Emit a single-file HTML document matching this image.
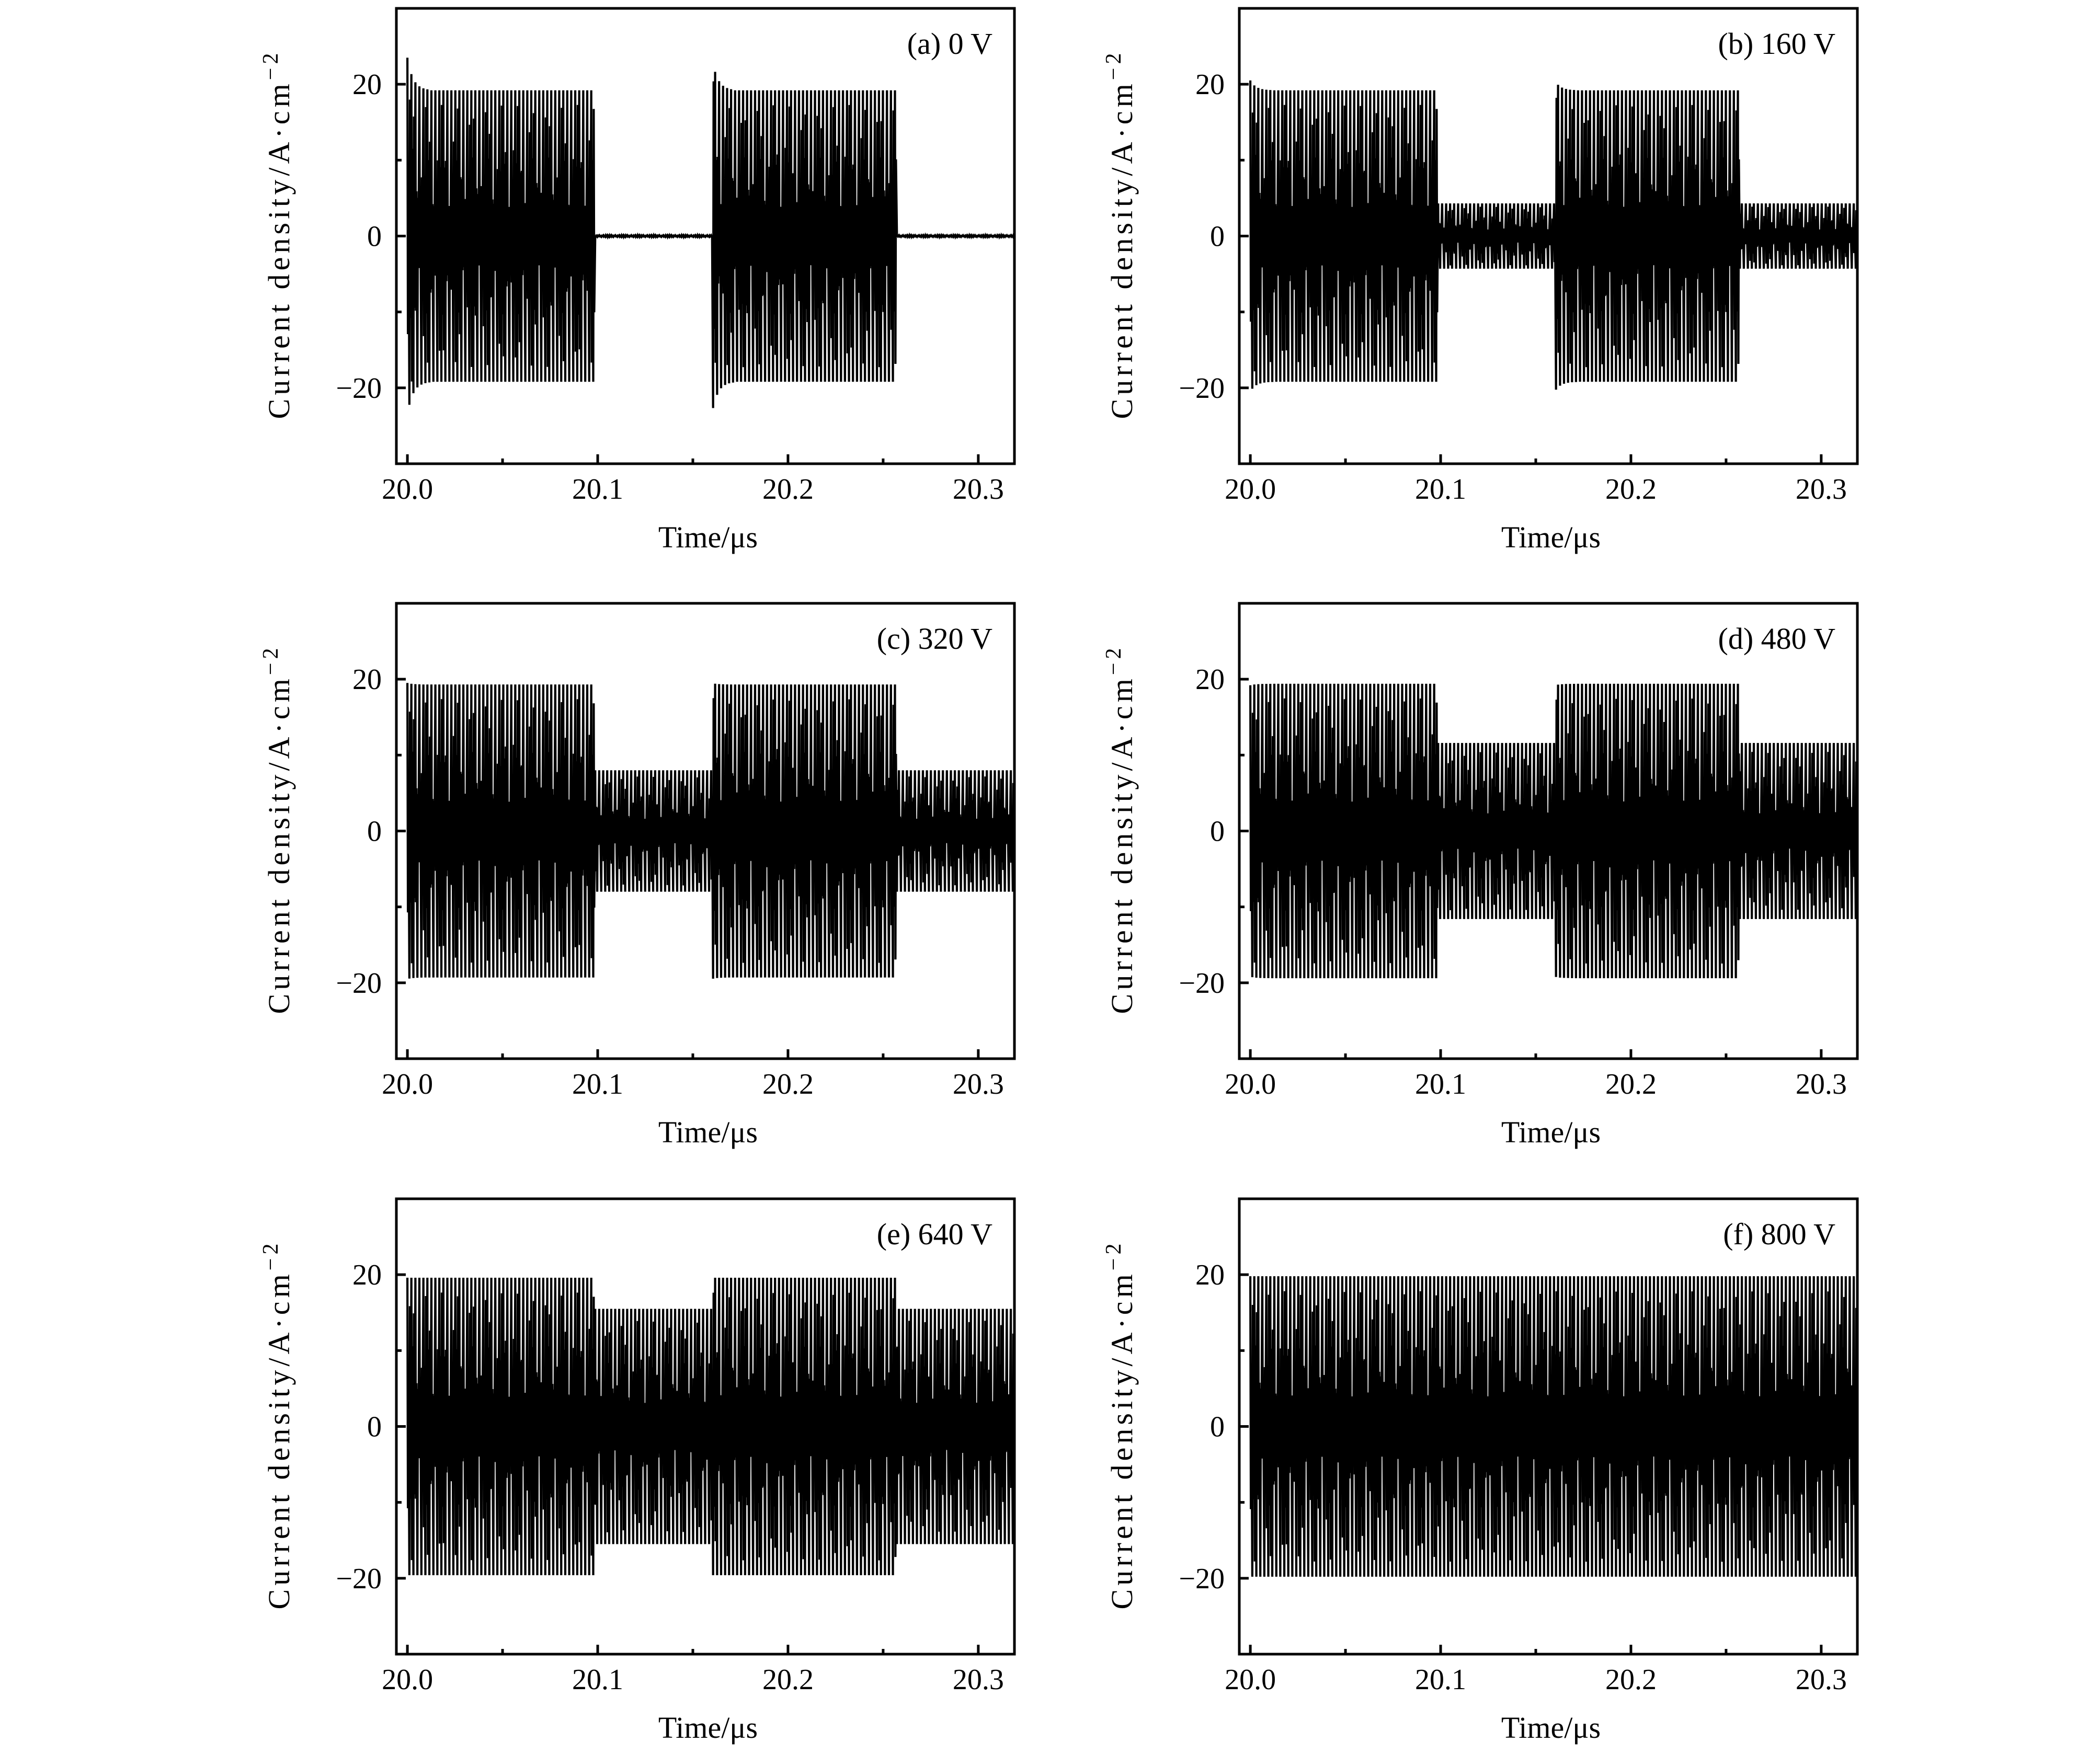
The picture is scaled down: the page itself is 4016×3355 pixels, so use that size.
<!DOCTYPE html>
<html><head><meta charset="utf-8"><style>
html,body{margin:0;padding:0;background:#fff}
svg{display:block}
text{font-family:"Liberation Serif",serif;fill:#000}
</style></head><body>
<svg id="fig" width="4016" height="3355" viewBox="0 0 4016 3355" xmlns="http://www.w3.org/2000/svg"></svg>
<script>
// ---- data ----
const panelLabels = ["(a) 0 V","(b) 160 V","(c) 320 V","(d) 480 V","(e) 640 V","(f) 800 V"];
const onAmp = [19.2, 19.2, 19.3, 19.4, 19.6, 19.8];
const offAmp = [0.1, 4.3, 8.0, 11.6, 15.5, 19.8];
const startPeak = [23.5, 20.5, 19.5, 19.2, 19.6, 19.8];
const segStart = [20.0, 20.098, 20.16, 20.257];
const segOn = [1, 0, 1, 0];
const xTicks = [20.0, 20.1, 20.2, 20.3];
const xTickLabels = ["20.0","20.1","20.2","20.3"];
const xMinor = [20.05, 20.15, 20.25];
const yTicks = [-20, 0, 20];
const yTickLabels = ["\u221220","0","20"];
const yMinor = [-10, 10];
const period = 0.0021;

const NS = "http://www.w3.org/2000/svg";
const svg = document.getElementById('fig');
function mk(tag, attrs, parent){
  const e = document.createElementNS(NS, tag);
  for (const k in attrs) e.setAttribute(k, attrs[k]);
  (parent||svg).appendChild(e); return e;
}
const colsX = [758, 2370];
const rowsY = [16, 1154, 2293];
const W = 1182, H = 871;
const xMin = 19.9942, xMax = 20.319, yMin = -30, yMax = 30;
const defs = mk('defs', {});

for (let p = 0; p < 6; p++) {
  const L = colsX[p % 2], T = rowsY[Math.floor(p / 2)];
  const sx = v => L + (v - xMin) / (xMax - xMin) * W;
  const sy = v => T + H - (v - yMin) / (yMax - yMin) * H;
  const cp = mk('clipPath', {id: 'clip' + p}, defs);
  mk('rect', {x: L, y: T, width: W, height: H}, cp);
  const g = mk('g', {});
  
  
  let d = '';
  let k = 0;
  for (let t = 20.0; t <= xMax + period; t += period / 2, k++) {
    let s = 0;
    for (let i = 0; i < segStart.length; i++) if (t >= segStart[i]) s = i;
    let A = segOn[s] ? onAmp[p] : offAmp[p];
    const since = t - segStart[s];
    if (segOn[s] && since < 0.012) A = A + (startPeak[p] - onAmp[p]) * Math.exp(-since / 0.003);
    const sign = (k % 2 === 0) ? 1 : -1;
    const r = 0.55 + 0.35 * Math.sin(2 * Math.PI * (t - 20) / 0.05 + k * 0.7);
    d += (d ? 'L' : 'M') + sx(t).toFixed(1) + ' ' + sy(sign * A).toFixed(1);
    d += 'L' + sx(t + period / 8).toFixed(1) + ' ' + sy(-sign * A * r).toFixed(1);
    d += 'L' + sx(t + period / 4).toFixed(1) + ' ' + sy(sign * A * r * 0.6).toFixed(1);
  }
  const path = mk('path', {d: d, fill: 'none', stroke: '#000', 'stroke-width': 4.2, 'clip-path': 'url(#clip' + p + ')'}, g);
  
  
  xTicks.forEach((v, i) => {
    const tk = mk('line', {x1: sx(v), x2: sx(v), y1: T + H, y2: T + H - 18, stroke: '#000', 'stroke-width': 5}, g);
    
    
    const tl = mk('text', {x: sx(v), y: T + H + 67, 'text-anchor': 'middle', 'font-size': 56}, g);
    tl.textContent = xTickLabels[i];
    
    
  });
  xMinor.forEach(v => {
    const tk = mk('line', {x1: sx(v), x2: sx(v), y1: T + H, y2: T + H - 10, stroke: '#000', 'stroke-width': 5}, g);
    
    
  });
  yTicks.forEach((v, i) => {
    const tk = mk('line', {x1: L, x2: L + 18, y1: sy(v), y2: sy(v), stroke: '#000', 'stroke-width': 5}, g);
    
    
    const tl = mk('text', {x: L - 28, y: sy(v) + 19, 'text-anchor': 'end', 'font-size': 56}, g);
    tl.textContent = yTickLabels[i];
    
    
  });
  yMinor.forEach(v => {
    const tk = mk('line', {x1: L, x2: L + 10, y1: sy(v), y2: sy(v), stroke: '#000', 'stroke-width': 5}, g);
    
    
  });
  const box = mk('rect', {x: L, y: T, width: W, height: H, fill: 'none', stroke: '#000', 'stroke-width': 5}, g);
  
  
  const an = mk('text', {x: L + W - 42, y: T + 87, 'text-anchor': 'end', 'font-size': 58}, g);
  an.textContent = panelLabels[p];
  
  
  const xt = mk('text', {x: L + W / 2 + 5, y: T + H + 160, 'text-anchor': 'middle', 'font-size': 58}, g);
  xt.textContent = 'Time/\u03bcs';
  
  
  const cx = L - 205, cy = T + H / 2;
  const yt = mk('text', {x: cx, y: cy, 'text-anchor': 'middle', 'font-size': 58, transform: 'rotate(-90 ' + cx + ' ' + cy + ')', textLength: 700, lengthAdjust: 'spacing'}, g);
  yt.textContent = 'Current density/A\u00b7cm';
  const sup = mk('tspan', {dy: -22, 'font-size': 42}, yt);
  sup.textContent = '\u22122';
  
  
}
</script>
</body></html>
